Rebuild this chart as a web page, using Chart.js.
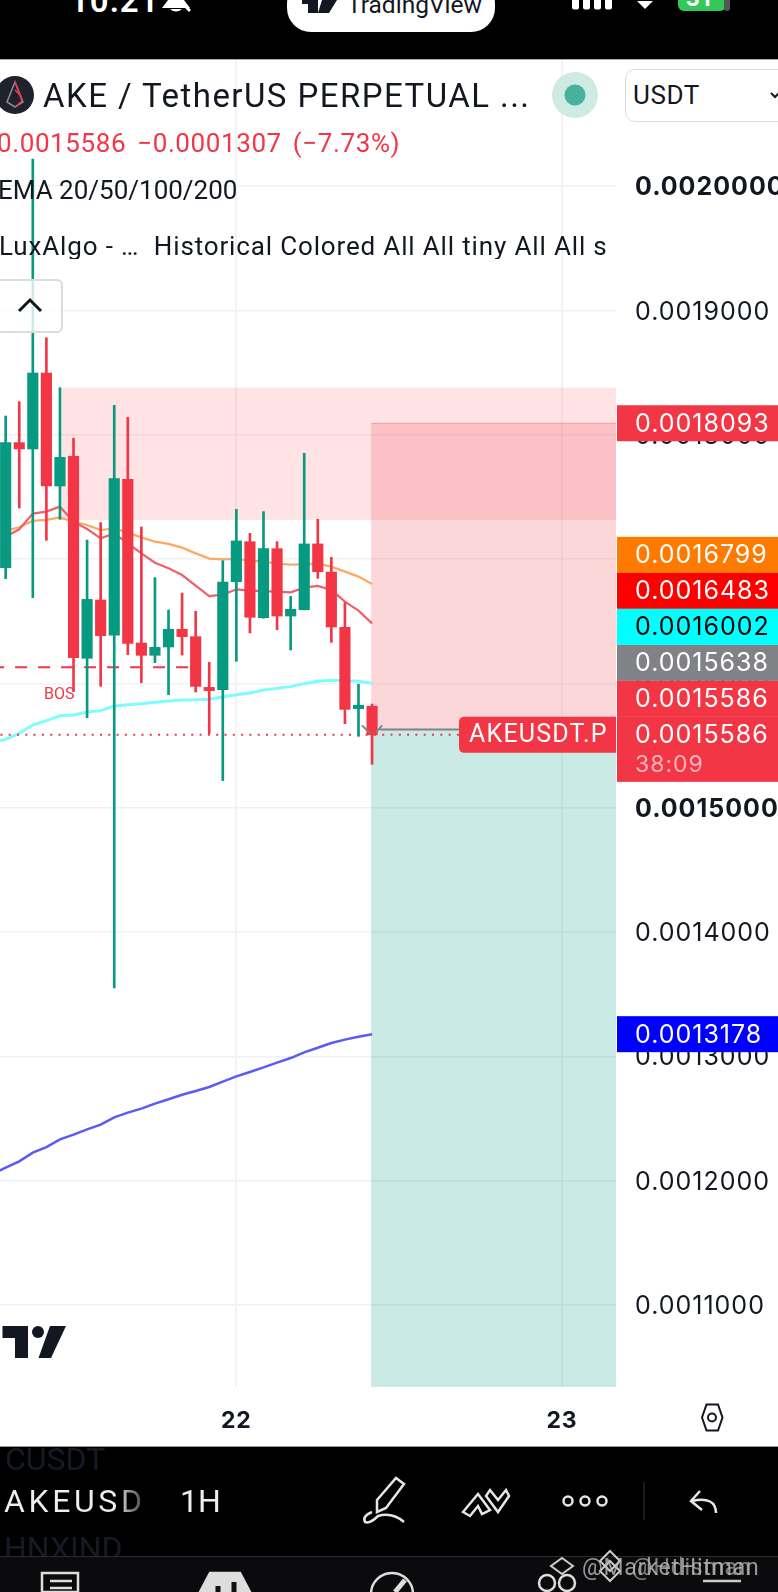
<!DOCTYPE html>
<html>
<head>
<meta charset="utf-8">
<title>AKEUSDT.P 1H</title>
<script src="https://cdn.jsdelivr.net/npm/chart.js@4/dist/chart.umd.min.js"></script>
<style>
  html, body { margin: 0; padding: 0; background: #fff; }
  body { width: 778px; height: 1592px; position: relative; overflow: hidden; font-family: Roboto, sans-serif; color: #131722; }
  #myChart { position: absolute; left: 0; top: 60px; }
  .abs { position: absolute; white-space: nowrap; line-height: 1; }
  .black { position: absolute; left: 0; width: 778px; background: #000; }
</style>
</head>
<body>
<canvas id="myChart" width="778" height="1386"></canvas>

<!-- top phone bar -->
<div class="black" style="top:0;height:60px;border-bottom:1px solid #aaa;box-sizing:border-box"></div>
<div class="abs" style="left:70px;top:-16px;font-size:33px;font-weight:600;color:#fff;letter-spacing:1px">10:21</div>
<div class="abs" style="left:287px;top:-20px;width:208px;height:52px;background:#fff;border-radius:24px"></div>
<div class="abs" style="left:347px;top:-7px;font-size:24.5px;color:#131722">TradingView</div>
<svg class="abs" style="left:0;top:0" width="778" height="60">
  <path d="M162 8 L190 8 L184 0 L168 0 Z" fill="#fff"/><path d="M170 9 Q176 14 182 9 Z" fill="#fff"/><path d="M176 -4 L190 11" stroke="#fff" stroke-width="3"/>
  <path d="M302 0 H318 V13 H308 V4 H302 Z M322 0 H337 L329 13 H318 Z" fill="#131722"/>
  <rect x="572" y="-8" width="7" height="17.5" rx="2" fill="#fff"/><rect x="583" y="-8" width="7" height="17.5" rx="2" fill="#fff"/><rect x="594" y="-8" width="7" height="17.5" rx="2" fill="#fff"/><rect x="605" y="-8" width="7" height="17.5" rx="2" fill="#fff"/>
  <path d="M637 1 L653 1 L645 9 Z" fill="#fff"/>
  <rect x="678" y="-14" width="48" height="25" rx="6" fill="#34c759"/><rect x="724" y="-14" width="6" height="25" rx="3" fill="#555"/>
</svg>
<div class="abs" style="left:686px;top:-14px;font-size:24px;font-weight:700;color:#fff">31</div>

<!-- chart legend -->
<svg class="abs" style="left:0;top:60px" width="60" height="70">
  <circle cx="15" cy="35" r="19" fill="#1e222d"/>
  <path d="M15 22 L7 42 L15 47 L23 42 Z" fill="none" stroke="#8a8e99" stroke-width="1.5"/>
  <path d="M15 22 L22 41 L15 47 M15 30 L21 36" fill="none" stroke="#f23645" stroke-width="1.5"/>
</svg>
<div class="abs" style="left:43px;top:79px;font-size:33px;color:#131722;letter-spacing:1.45px">AKE / TetherUS PERPETUAL ...</div>
<svg class="abs" style="left:545px;top:65px" width="60" height="60">
  <circle cx="30" cy="30" r="23" fill="#cdeae4"/><circle cx="30" cy="30" r="10.5" fill="#46b29a"/>
</svg>
<div class="abs" style="left:625px;top:68.5px;width:170px;height:53px;box-sizing:border-box;background:#fff;border:1.5px solid #dcdcdc;border-radius:10px"></div>
<div class="abs" style="left:633px;top:82px;font-size:26px;letter-spacing:.6px">USDT</div>
<svg class="abs" style="left:770px;top:90px" width="8" height="12"><path d="M1 3 L5 7 L9 3" fill="none" stroke="#131722" stroke-width="2"/></svg>
<div class="abs" style="left:-3px;top:130px;font-size:26px;color:#f23645;letter-spacing:.6px;word-spacing:4px">0.0015586&nbsp;−0.0001307 (−7.73%)</div>
<div class="abs" style="left:-2px;top:177px;font-size:26px">EMA 20/50/100/200</div>
<div class="abs" style="left:-1px;top:233px;font-size:26px;width:607px;overflow:hidden;letter-spacing:.85px">LuxAlgo - …&nbsp; Historical Colored All All tiny All All smc</div>
<div class="abs" style="left:-6px;top:279px;width:69px;height:54px;box-sizing:border-box;background:rgba(255,255,255,.8);border:2px solid #dcdcdc;border-radius:6px"></div>
<svg class="abs" style="left:0;top:279px" width="62" height="54"><path d="M19 32 L30 21 L41 32" fill="none" stroke="#131722" stroke-width="3"/></svg>

<!-- tradingview mark and axis settings -->
<svg class="abs" style="left:0;top:1320px" width="778" height="125">
  <path d="M2.5 6 H28 V38 H15 V18 H2.5 Z M50 6 H66 L51 38 H38.5 Z" fill="#131722"/><circle cx="38" cy="12" r="6" fill="#131722"/>
  <path d="M702 98 L706.5 85 H718 L722.5 98 L718 111 H706.5 Z" transform="translate(0,-0.5)" fill="none" stroke="#131722" stroke-width="2"/>
  <circle cx="712" cy="97.5" r="4" fill="none" stroke="#131722" stroke-width="2"/>
</svg>

<!-- bottom toolbar -->
<div class="black" style="top:1446px;height:146px;border-top:1px solid #999;box-sizing:border-box"></div>
<div class="abs" style="left:0;top:1556px;width:778px;height:36px;background:#0b0b0d;border-top:1px solid #2c2c30;box-sizing:border-box"></div>
<div class="abs" style="left:5px;top:1443px;font-size:32px;color:#151b26;height:30px;overflow:hidden;width:120px">CUSDT</div>
<div class="abs" style="left:4px;top:1485px;font-size:32px;letter-spacing:3.6px;background:linear-gradient(90deg,#eee 78%,#333 100%);-webkit-background-clip:text;background-clip:text;color:transparent">AKEUSD</div>
<div class="abs" style="left:180px;top:1485px;font-size:32px;color:#eee">1H</div>
<div class="abs" style="left:4px;top:1532px;font-size:32px;color:#151b26;height:24px;overflow:hidden">HNXIND</div>
<svg class="abs" style="left:0;top:1446px" width="778" height="146" fill="none" stroke="#e6e6e6" stroke-width="2.5">
  <path d="M377 54 L396 32 L404 38 L386 62 L377 66 Z"/>
  <path d="M372 66 Q362 70 365 76 Q370 78 378 70 Q392 66 404 76"/>
  <path d="M463 66 L478 48 L490 64 L482 68 L478 60 L470 70 Z M490 44 L498 54 L506 44 L509 50 L498 66 L486 50 Z"/>
  <circle cx="568" cy="55" r="4.5"/><circle cx="585" cy="55" r="4.5"/><circle cx="602" cy="55" r="4.5"/>
  <path d="M644 36 V74" stroke="#333" stroke-width="1"/>
  <path d="M700 45 L691 55 L702 64 M692 55 Q716 50 716 67"/>
  <path d="M42 127 H78 V146 H42 Z M50 135 H72 M50 142 H72" stroke="#ddd"/>
  <path d="M210 127 H240 L250 146 H200 Z" fill="#ddd" stroke="#ddd"/>
  <path d="M218 140 V146 M234 136 V146" stroke="#111" stroke-width="5"/>
  <circle cx="392" cy="148" r="21" stroke="#ddd"/><path d="M405 134 L395 146" stroke="#ddd" stroke-width="5"/>
  <circle cx="547" cy="137" r="8" stroke="#ddd"/><circle cx="567" cy="137" r="8" stroke="#ddd"/>
  <path d="M703 135 H741" stroke="#ccc"/>
  <g stroke="#ccc" stroke-width="2"><path d="M562 112 L573 120 L562 128 L551 120 Z"/><path d="M610 105 L620 115 L610 125 L600 115 Z M610 115 L620 125 L610 135 L600 125 Z"/></g>
</svg>
<div class="abs" style="left:582px;top:1556px;font-size:23px;color:#bbb;opacity:.8;letter-spacing:.8px">@MarketHitman</div>
<div class="abs" style="left:632px;top:1556px;font-size:23px;color:#bbb;opacity:.65;letter-spacing:.8px">@Hdisman</div>

<script>
// candles, oldest first (green when close > open)
const hours = [0,1,2,3,4,5,6,7,8,9,10,11,12,13,14,15,16,17,18,19,20,21,22,23,24,25,26,27];
const opens  = [0.0016931,0.0017937,0.0017886,0.0018497,0.0017588,0.0017827,0.0016202,0.0016671,0.0016389,0.0017642,0.0016325,0.0016226,0.0016293,0.0016435,0.0016376,0.0015968,0.0015950,0.0016818,0.0017140,0.0016529,0.0017084,0.0016542,0.0016593,0.0017122,0.0016896,0.0016451,0.0015797,0.0015816];
const highs  = [0.0018151,0.0018267,0.0020219,0.0018781,0.0018379,0.0017972,0.0017154,0.0017293,0.0018237,0.0018141,0.0017258,0.0016851,0.0016591,0.0016727,0.0016580,0.0016170,0.0016987,0.0017400,0.0017207,0.0017382,0.0017140,0.0016700,0.0017851,0.0017320,0.0017014,0.0016650,0.0015993,0.0015834];
const lows   = [0.0016843,0.0017411,0.0016690,0.0017151,0.0017320,0.0015934,0.0015724,0.0015976,0.0013550,0.0016231,0.0016006,0.0016167,0.0015909,0.0016228,0.0015931,0.0015596,0.0015218,0.0016178,0.0016406,0.0016524,0.0016432,0.0016269,0.0016591,0.0016845,0.0016330,0.0015676,0.0015574,0.0015349];
const closes = [0.0017937,0.0017886,0.0018497,0.0017588,0.0017819,0.0016207,0.0016676,0.0016384,0.0017647,0.0016322,0.0016226,0.0016290,0.0016435,0.0016376,0.0015976,0.0015942,0.0016816,0.0017146,0.0016532,0.0017084,0.0016542,0.0016596,0.0017122,0.0016899,0.0016454,0.0015791,0.0015824,0.0015586];

// EMA lines start one hour before the first visible candle
const lineHours = [-1,0,1,2,3,4,5,6,7,8,9,10,11,12,13,14,15,16,17,18,19,20,21,22,23,24,25,26,27];
const ema20  = [0.0017127,0.0017181,0.0017240,0.0017366,0.0017382,0.0017422,0.0017301,0.0017242,0.0017167,0.0017207,0.0017127,0.0017046,0.0016971,0.0016926,0.0016872,0.0016786,0.0016703,0.0016714,0.0016757,0.0016746,0.0016743,0.0016738,0.0016733,0.0016770,0.0016784,0.0016751,0.0016658,0.0016585,0.0016483];
const ema50  = [0.0017180,0.0017229,0.0017256,0.0017307,0.0017315,0.0017336,0.0017299,0.0017274,0.0017234,0.0017248,0.0017213,0.0017175,0.0017140,0.0017122,0.0017092,0.0017046,0.0017004,0.0016998,0.0017001,0.0016987,0.0016979,0.0016963,0.0016955,0.0016958,0.0016963,0.0016939,0.0016899,0.0016859,0.0016799];
const ema100 = [0.0015523,0.0015550,0.0015598,0.0015665,0.0015700,0.0015740,0.0015746,0.0015770,0.0015781,0.0015818,0.0015829,0.0015837,0.0015848,0.0015858,0.0015867,0.0015869,0.0015872,0.0015891,0.0015909,0.0015923,0.0015947,0.0015960,0.0015974,0.0015998,0.0016017,0.0016025,0.0016022,0.0016017,0.0016002];
const ema200 = [0.0012053,0.0012104,0.0012155,0.0012225,0.0012270,0.0012332,0.0012370,0.0012412,0.0012450,0.0012509,0.0012547,0.0012579,0.0012619,0.0012654,0.0012691,0.0012721,0.0012753,0.0012796,0.0012839,0.0012874,0.0012911,0.0012949,0.0012986,0.0013032,0.0013069,0.0013107,0.0013134,0.0013158,0.0013178];

// axes
const priceTicks = [0.0011,0.0012,0.0013,0.0014,0.0015,0.0016,0.0017,0.0018,0.0019,0.0020];
const boldTicks = [0.0015,0.0020];
const dayTicks = [17,41];
const dayLabels = ['22','23'];

// drawn levels
const bosPrice = 0.0016129;
const bosHours = [-1,13.8];
const lastPrice = 0.0015586;
const lastHours = [-1,33.5];
const zonePrices = [0.0018379,0.0017315];
const zoneStart = 4.08;
const stopPrice = 0.0018093;
const entryPrice = 0.0015638;
const entryStart = 26.93;
const countdown = '38:09';
const symbolTag = 'AKEUSDT.P';

// right-hand price tags, lowest first so they can stack upward
const tagValues = ['0.0015586','0.0015586','0.0015638','0.0016002','0.0016483','0.0016799'];
const tagColors = ['#f23645','#f23645','#808285','#00ffff','#ff0000','#ff7a00'];
const tagText   = ['#fff','#fff','#fff','#000','#fff','#fff'];
const freeTagValues = ['0.0018093','0.0013178'];
const freeTagColors = ['#f23645','#0000ff'];

const red = '#f23645';
const green = '#089981';
const candleColor = hours.map((h, i) => closes[i] >= opens[i] ? green : red);

const priceFont = '25px Inter, Roboto, sans-serif';

function drawTag(ctx, right, y, h, bg, fg, text) {
  ctx.fillStyle = bg;
  ctx.fillRect(617, y - h / 2, right - 617, h);
  ctx.fillStyle = fg;
  ctx.font = priceFont;
  ctx.letterSpacing = '1px';
  ctx.textAlign = 'left';
  ctx.textBaseline = 'middle';
  ctx.fillText(text, 635, y + 1);
}

const boxesPlugin = {
  id: 'boxes',
  beforeDraw(chart) {
    // price axis text runs a little wider than the font
    chart.ctx.letterSpacing = '1px';
  },
  beforeDatasetsDraw(chart) {
    const { ctx, chartArea: a, scales: { x, y } } = chart;
    ctx.save();
    ctx.beginPath();
    ctx.rect(a.left, a.top, a.width, a.height);
    ctx.clip();
    const zoneX = x.getPixelForValue(zoneStart);
    const posX = x.getPixelForValue(entryStart);
    const entryY = y.getPixelForValue(entryPrice);
    const stopY = y.getPixelForValue(stopPrice);
    ctx.fillStyle = 'rgba(255,60,70,0.14)';
    ctx.fillRect(zoneX, y.getPixelForValue(zonePrices[0]), a.right - zoneX, y.getPixelForValue(zonePrices[1]) - y.getPixelForValue(zonePrices[0]));
    ctx.fillStyle = 'rgba(242,54,69,0.2)';
    ctx.fillRect(posX, stopY, a.right - posX, entryY - stopY);
    ctx.fillStyle = 'rgba(0,155,130,0.21)';
    ctx.fillRect(posX, entryY, a.right - posX, a.bottom - entryY);
    ctx.strokeStyle = 'rgba(242,54,69,0.35)';
    ctx.lineWidth = 1;
    ctx.beginPath();
    ctx.moveTo(posX, stopY);
    ctx.lineTo(a.right, stopY);
    ctx.stroke();
    ctx.restore();
  },
  afterDraw(chart) {
    const { ctx, chartArea: a, scales: { x, y } } = chart;
    const w = chart.width;
    const lastY = y.getPixelForValue(lastPrice);
    const entryY = y.getPixelForValue(entryPrice);
    ctx.save();
    // entry line and arrow from the last candle
    const arrowX = x.getPixelForValue(27);
    ctx.strokeStyle = '#808285';
    ctx.lineWidth = 2;
    ctx.beginPath();
    ctx.moveTo(arrowX + 8, entryY + 1);
    ctx.lineTo(x.getPixelForValue(33.5), entryY + 1);
    ctx.moveTo(arrowX - 10, entryY - 3);
    ctx.lineTo(arrowX - 2, entryY + 5);
    ctx.moveTo(arrowX + 10, entryY - 3);
    ctx.lineTo(arrowX + 4, entryY + 4);
    ctx.stroke();
    // BOS text
    ctx.fillStyle = red;
    ctx.letterSpacing = '0px';
    ctx.font = '16px Roboto, sans-serif';
    ctx.textAlign = 'center';
    ctx.textBaseline = 'middle';
    ctx.fillText('BOS', x.getPixelForValue(3.95), y.getPixelForValue(bosPrice) + 28);
    // symbol tag on the last price
    ctx.fillStyle = red;
    ctx.beginPath();
    ctx.roundRect(459, lastY - 18, a.right - 459, 36, [5, 0, 0, 5]);
    ctx.fill();
    ctx.fillStyle = '#fff';
    ctx.letterSpacing = '1.2px';
    ctx.font = '25px Roboto, sans-serif';
    ctx.textAlign = 'left';
    ctx.fillText(symbolTag, 469, lastY + 1);
    // stacked price tags
    let stackY = null;
    const bottoms = [];
    tagValues.forEach((v, i) => {
      const real = y.getPixelForValue(parseFloat(v));
      stackY = stackY === null ? real : Math.min(real, stackY - 36);
      bottoms.push(stackY);
    });
    for (let i = tagValues.length - 1; i >= 0; i--) {
      if (i === 0) {
        ctx.fillStyle = tagColors[0];
        ctx.fillRect(617, bottoms[0] - 18, w - 617, 65);
      }
      drawTag(ctx, w, bottoms[i], 36, tagColors[i], tagText[i], tagValues[i]);
    }
    ctx.fillStyle = '#f9b4ba';
    ctx.font = '23px Inter, Roboto, sans-serif';
    ctx.fillText(countdown, 635, lastY + 30);
    freeTagValues.forEach((v, i) => {
      drawTag(ctx, w, y.getPixelForValue(parseFloat(v)), 36, freeTagColors[i], '#fff', v);
    });
    ctx.restore();
  }
};

const ctx = document.getElementById('myChart').getContext('2d');
const myChart = new Chart(ctx, {
  type: 'bar',
  data: {
    datasets: [
      {
        label: 'body',
        data: hours.map((h, i) => ({ x: h, y: [opens[i], closes[i]] })),
        backgroundColor: candleColor,
        barThickness: 10.5,
        grouped: false,
        order: 1
      },
      {
        label: 'wick',
        data: hours.map((h, i) => ({ x: h, y: [lows[i], highs[i]] })),
        backgroundColor: candleColor,
        barThickness: 2,
        grouped: false,
        order: 2
      },
      {
        type: 'line', label: 'last price', order: 3,
        data: lastHours.map(h => ({ x: h, y: lastPrice })),
        borderColor: red, borderWidth: 2, borderDash: [2, 6.3], pointRadius: 0
      },
      {
        type: 'line', label: 'BOS', order: 3,
        data: bosHours.map(h => ({ x: h, y: bosPrice })),
        borderColor: red, borderWidth: 2, borderDash: [12, 11], pointRadius: 0
      },
      {
        type: 'line', label: 'EMA 20', order: 4,
        data: lineHours.map((h, i) => ({ x: h, y: ema20[i] })),
        borderColor: '#f0606c', borderWidth: 2.2, pointRadius: 0
      },
      {
        type: 'line', label: 'EMA 50', order: 5,
        data: lineHours.map((h, i) => ({ x: h, y: ema50[i] })),
        borderColor: '#ffa860', borderWidth: 2.2, pointRadius: 0
      },
      {
        type: 'line', label: 'EMA 100', order: 6,
        data: lineHours.map((h, i) => ({ x: h, y: ema100[i] })),
        borderColor: '#7ffcff', borderWidth: 3, pointRadius: 0
      },
      {
        type: 'line', label: 'EMA 200', order: 7,
        data: lineHours.map((h, i) => ({ x: h, y: ema200[i] })),
        borderColor: '#5a5af5', borderWidth: 2.5, pointRadius: 0
      }
    ]
  },
  options: {
    responsive: false,
    animation: false,
    events: [],
    layout: { padding: 0, autoPadding: false },
    plugins: { legend: { display: false }, tooltip: { enabled: false } },
    scales: {
      x: {
        type: 'linear',
        offset: false,
        min: -0.418,
        max: 44.976,
        afterBuildTicks: scale => { scale.ticks = dayTicks.map(v => ({ value: v })); },
        afterFit: scale => { scale.height = 59; },
        border: { display: false },
        grid: { color: '#f2f3f5', lineWidth: 2, drawTicks: false, offset: false },
        ticks: {
          autoSkip: false,
          maxRotation: 0,
          padding: 20,
          color: '#131722',
          font: { family: 'Inter, Roboto, sans-serif', size: 23, weight: 'bold' },
          callback: v => dayLabels[dayTicks.indexOf(v)]
        }
      },
      y: {
        position: 'right',
        offset: false,
        min: 0.00103395,
        max: 0.00210153,
        afterBuildTicks: scale => { scale.ticks = priceTicks.map(v => ({ value: v })); },
        afterFit: scale => { scale.width = 162; scale.paddingTop = 0; scale.paddingBottom = 0; },
        border: { display: false },
        grid: { color: '#f0f1f3', lineWidth: 1.5, drawTicks: false },
        ticks: {
          autoSkip: false,
          padding: 19,
          labelOffset: 1.5,
          color: '#131722',
          font: c => ({
            family: 'Inter, Roboto, sans-serif',
            size: 25,
            weight: c.tick && boldTicks.includes(c.tick.value) ? 'bold' : 'normal'
          }),
          callback: v => v.toFixed(7)
        }
      }
    }
  },
  plugins: [boxesPlugin]
});
</script>
</body>
</html>
